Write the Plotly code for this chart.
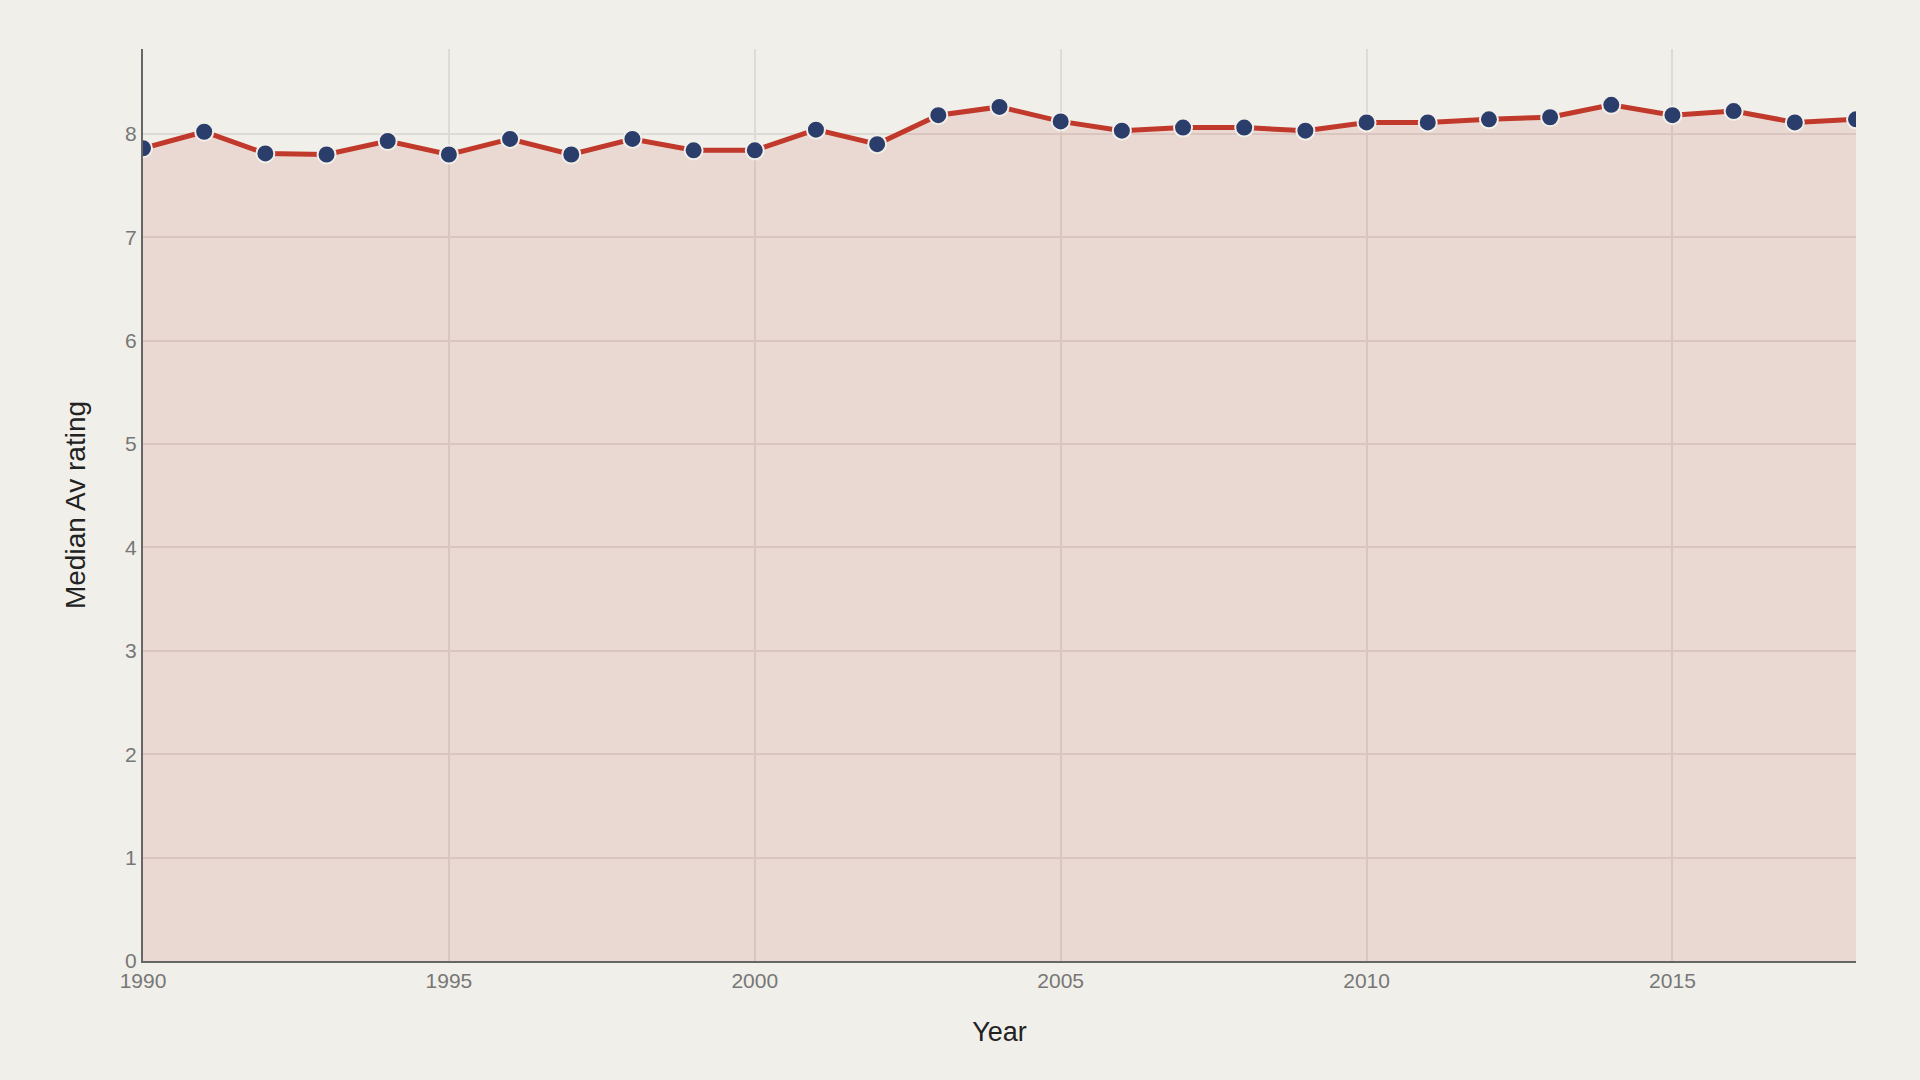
import plotly.graph_objects as go

years = list(range(1990, 2019))
ratings = [7.86, 8.02, 7.81, 7.80, 7.93, 7.80, 7.95, 7.80, 7.95, 7.84,
           7.84, 8.04, 7.90, 8.18, 8.26, 8.12, 8.03, 8.06, 8.06, 8.03,
           8.11, 8.11, 8.14, 8.16, 8.28, 8.18, 8.22, 8.11, 8.14]

x_tickvals = [1990, 1995, 2000, 2005, 2010, 2015]
y_tickvals = [0, 1, 2, 3, 4, 5, 6, 7, 8]

fig = go.Figure()
fig.add_trace(go.Scatter(
    x=years, y=ratings,
    mode="lines+markers",
    fill="tozeroy",
    fillcolor="rgba(192,57,43,0.12)",
    line=dict(color="#c0392b", width=5),
    marker=dict(size=18, color="#2b3d6b", line=dict(color="#f1efea", width=2)),
    hoverinfo="x+y",
))

fig.update_layout(
    width=1920, height=1080,
    paper_bgcolor="#f1efea",
    plot_bgcolor="#f1efea",
    margin=dict(l=143, r=64, t=49, b=119),
    font=dict(family="Liberation Sans, Arial, sans-serif", size=21, color="#777777"),
    showlegend=False,
    xaxis=dict(
        range=[1990, 2018],
        tickvals=x_tickvals,
        ticktext=[str(v) for v in x_tickvals],
        showgrid=True, gridcolor="#dedad4", gridwidth=2,
        showline=True, linecolor="#666666", linewidth=2,
        zeroline=False, ticks="",
        title=dict(text="Year", font=dict(size=27, color="#222222"), standoff=31),
    ),
    yaxis=dict(
        range=[0, 8.82],
        tickvals=y_tickvals,
        showgrid=True, gridcolor="#dedad4", gridwidth=2,
        showline=True, linecolor="#666666", linewidth=2,
        zeroline=False, ticks="",
        title=dict(text="Median Av rating", font=dict(size=28, color="#222222"), standoff=31),
    ),
)

fig.write_html("out.html")
